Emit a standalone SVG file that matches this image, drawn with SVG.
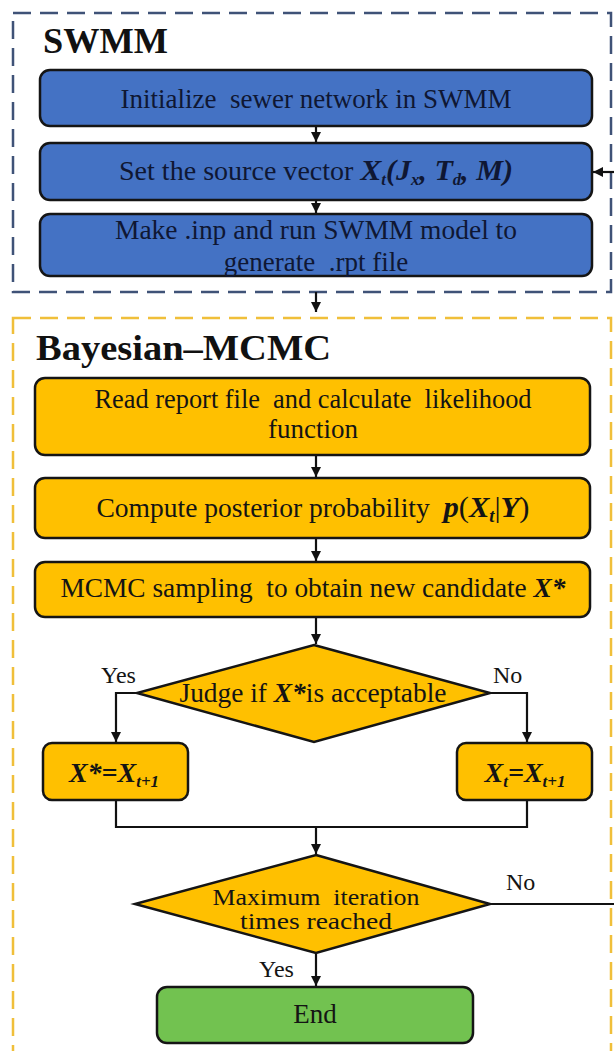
<svg xmlns="http://www.w3.org/2000/svg" width="614" height="1051" viewBox="0 0 614 1051" font-family="'Liberation Serif','Times New Roman',serif">
<style>
text{font-family:"Liberation Serif","Times New Roman",serif;}
.t{font-size:27px;text-anchor:middle;fill:#141414;}
.tb{fill:#0f1733;}
.ttl{font-size:36px;font-weight:bold;fill:#111;}
.m{font-weight:bold;font-style:italic;}
.bb{fill:#4472c4;stroke:#151515;stroke-width:2.5;}
.yb{fill:#ffc000;stroke:#151515;stroke-width:2.5;}
.gb{fill:#72c250;stroke:#151515;stroke-width:2.5;}
.c{fill:none;stroke:#111;stroke-width:2.2;}
.lbl{font-size:24px;fill:#141414;}
</style>
<defs>
<marker id="ah" viewBox="0 0 10 10" refX="10" refY="5" markerWidth="10" markerHeight="10" markerUnits="userSpaceOnUse" orient="auto">
<path d="M0,0 L10,5 L0,10 z" fill="#111"/>
</marker>
</defs>
<rect id="swmm-frame" x="13" y="13" width="598" height="279" fill="none" stroke="#3f5277" stroke-width="2.5" stroke-dasharray="18,9"/>
<rect id="bayes-frame" x="13" y="318" width="598" height="760" fill="none" stroke="#f0bf3a" stroke-width="2.5" stroke-dasharray="18,9"/>
<text x="43" y="53" class="ttl" textLength="125" lengthAdjust="spacingAndGlyphs">SWMM</text>
<text x="36" y="360" class="ttl" textLength="295" lengthAdjust="spacingAndGlyphs">Bayesian–MCMC</text>
<g id="connectors">
<line class="c" x1="316" y1="126" x2="316" y2="142" marker-end="url(#ah)"/>
<line class="c" x1="316" y1="200" x2="316" y2="213" marker-end="url(#ah)"/>
<line class="c" x1="316" y1="292" x2="316" y2="312" stroke-width="3" marker-end="url(#ah)"/>
<line class="c" x1="316" y1="455" x2="316" y2="477" marker-end="url(#ah)"/>
<line class="c" x1="316" y1="538" x2="316" y2="561" marker-end="url(#ah)"/>
<line class="c" x1="316" y1="617" x2="316" y2="644" marker-end="url(#ah)"/>
<polyline class="c" points="137,693 116,693 116,742" marker-end="url(#ah)"/>
<polyline class="c" points="490,693 527,693 527,742" marker-end="url(#ah)"/>
<polyline class="c" points="116,800 116,827 527,827 527,800"/>
<line class="c" x1="316" y1="827" x2="316" y2="854" marker-end="url(#ah)"/>
<line class="c" x1="316" y1="953" x2="316" y2="986" marker-end="url(#ah)"/>
<line class="c" x1="490" y1="904" x2="614" y2="904"/>
<line class="c" x1="614" y1="172" x2="593" y2="172" marker-end="url(#ah)"/>
<text x="101" y="683" class="lbl">Yes</text>
<text x="493" y="683" class="lbl">No</text>
<text x="506" y="890" class="lbl">No</text>
<text x="259" y="977" class="lbl">Yes</text>
</g>
<g id="n1">
<rect class="bb" x="40" y="70" width="552" height="56" rx="10"/>
<text x="316" y="108" class="t tb" textLength="391" lengthAdjust="spacingAndGlyphs">Initialize&#160; sewer network in SWMM</text>
</g>
<g id="n2">
<rect class="bb" x="40" y="143" width="552" height="57" rx="10"/>
<text x="316" y="180" class="t tb" textLength="394" lengthAdjust="spacingAndGlyphs">Set the source vector <tspan class="m" font-size="30">X</tspan><tspan class="m" font-size="16" dy="5">t</tspan><tspan class="m" font-size="29" dy="-5">(J</tspan><tspan class="m" font-size="16" dy="5">x</tspan><tspan class="m" font-size="29" dy="-5">, T</tspan><tspan class="m" font-size="16" dy="5">d</tspan><tspan class="m" font-size="29" dy="-5">, M)</tspan></text>
</g>
<g id="n3">
<rect class="bb" x="40" y="214" width="552" height="62" rx="10"/>
<text x="316" y="239" class="t tb" textLength="402" lengthAdjust="spacingAndGlyphs">Make .inp and run SWMM model to</text>
<text x="316" y="271" class="t tb">generate&#160; .rpt file</text>
</g>
<g id="n4">
<rect class="yb" x="35" y="378" width="555" height="77" rx="10"/>
<text x="313" y="408" class="t" textLength="437" lengthAdjust="spacingAndGlyphs">Read report file&#160; and calculate&#160; likelihood</text>
<text x="313" y="438" class="t">function</text>
</g>
<g id="n5">
<rect class="yb" x="35" y="478" width="555" height="60" rx="10"/>
<text x="313" y="517" class="t" textLength="433" lengthAdjust="spacingAndGlyphs">Compute posterior probability&#160; <tspan class="m" font-size="30">p</tspan><tspan font-size="30">(</tspan><tspan class="m" font-size="30">X</tspan><tspan class="m" font-size="18" dy="5">t</tspan><tspan dy="-5" font-size="30">|</tspan><tspan class="m" font-size="30">Y</tspan><tspan font-size="30">)</tspan></text>
</g>
<g id="n6">
<rect class="yb" x="35" y="562" width="555" height="55" rx="10"/>
<text x="313" y="597" class="t" textLength="505" lengthAdjust="spacingAndGlyphs">MCMC sampling&#160; to obtain new candidate <tspan class="m">X*</tspan></text>
</g>
<g id="d1">
<polygon class="yb" points="314,645 490,693 314,742 137,693"/>
<text x="313" y="702" class="t" textLength="267" lengthAdjust="spacingAndGlyphs">Judge if <tspan class="m">X*</tspan>is acceptable</text>
</g>
<g id="n7">
<rect class="yb" x="43" y="743" width="145" height="57" rx="9"/>
<text x="114" y="782" class="t m" style="font-size:28px">X*=X<tspan font-size="17" dy="5">t+1</tspan></text>
</g>
<g id="n8">
<rect class="yb" x="457" y="743" width="135" height="57" rx="9"/>
<text x="525" y="782" class="t m" style="font-size:28px">X<tspan font-size="17" dy="5">t</tspan><tspan dy="-5">=X</tspan><tspan font-size="17" dy="5">t+1</tspan></text>
</g>
<g id="d2">
<polygon class="yb" points="316,855 490,904 316,953 135,904"/>
<text x="316" y="905" class="t" style="font-size:24px" textLength="207" lengthAdjust="spacingAndGlyphs">Maximum&#160; iteration</text>
<text x="316" y="929" class="t" style="font-size:24px" textLength="152" lengthAdjust="spacingAndGlyphs">times reached</text>
</g>
<g id="n9">
<rect class="gb" x="157" y="987" width="316" height="56" rx="10"/>
<text x="315" y="1023" class="t">End</text>
</g>
</svg>
